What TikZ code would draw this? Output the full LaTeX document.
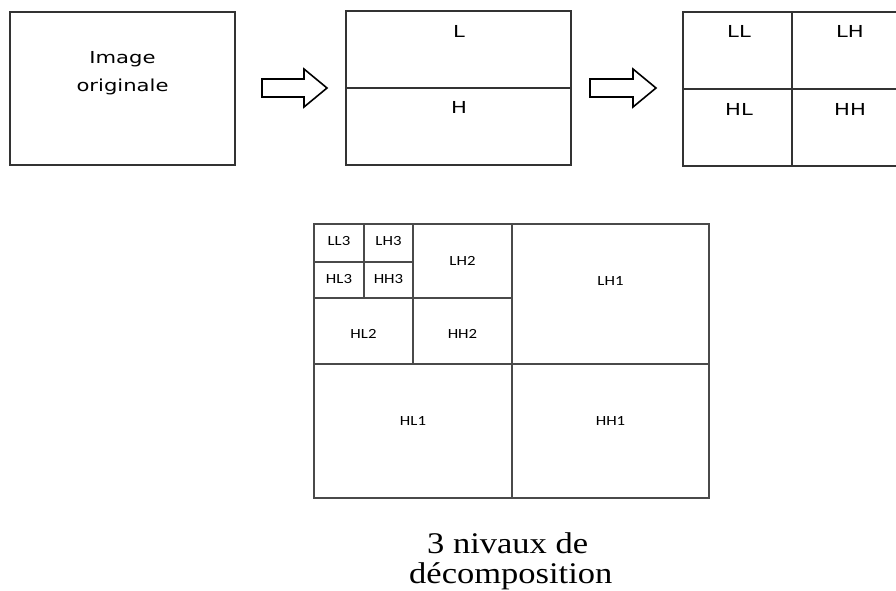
\documentclass[tikz,border=0pt]{standalone}
\usepackage{fontspec}
\usepackage{graphicx}
\setmainfont{Liberation Serif}
\newfontfamily\topfont{DejaVu Sans}
\newfontfamily\gridfont{Carlito}
\definecolor{ink}{HTML}{333333}
\definecolor{gridink}{HTML}{4A4A4A}
\tikzset{
  bigbox/.style={draw=ink, line width=1.8pt, inner sep=0pt},
  cellbox/.style={draw=gridink, line width=1.4pt, inner sep=0pt},
  toplbl/.style={inner sep=0pt, anchor=base, text=black, font=\topfont\fontsize{16.5}{20}\selectfont},
  gridlbl/.style={inner sep=0pt, anchor=base, text=black, font=\gridfont\fontsize{14}{17}\selectfont},
  caplbl/.style={inner sep=0pt, anchor=base west, text=black, font=\fontsize{30}{36}\selectfont},
  blockarrow/.style={draw=black, line width=1.6pt, fill=white, line join=miter},
}
\newcommand{\sx}[2]{\scalebox{#1}[1]{#2}}
\begin{document}
\begin{tikzpicture}[x=1pt, y=-1pt]
\useasboundingbox (0,0) rectangle (896,590);
% ---- top row ----
\node[bigbox, minimum width=225pt, minimum height=153pt] (orig) at (122.5,88.5) {};
\node[toplbl] (origt1) at (122.5,63) {\sx{1.28}{Image}};
\node[toplbl] (origt2) at (122.5,91) {\sx{1.28}{originale}};

\node[bigbox, minimum width=225pt, minimum height=154pt] (lh) at (458.5,88) {};
\draw[ink, line width=1.8pt] (lh.west) -- (lh.east);
\node[toplbl] (lt) at (459,37) {\sx{1.28}{L}};
\node[toplbl] (ht) at (459,113) {\sx{1.28}{H}};

\node[bigbox, minimum width=218pt, minimum height=154pt] (quad) at (792,89) {};
\draw[ink, line width=1.8pt] (quad.north) -- (quad.south);
\draw[ink, line width=1.8pt] (quad.west) -- (quad.east);
\node[toplbl] (llt) at (739,37) {\sx{1.28}{LL}};
\node[toplbl] (lht) at (850,37) {\sx{1.28}{LH}};
\node[toplbl] (hlt) at (739,115) {\sx{1.28}{HL}};
\node[toplbl] (hht) at (850,115) {\sx{1.28}{HH}};

% block arrows
\coordinate (a1) at (262,88);
\draw[blockarrow] (a1) ++(0,-9) -- ++(42,0) -- ++(0,-10) -- (327,88) -- (304,107) -- ++(0,-10) -- ++(-42,0) -- cycle;
\coordinate (a2) at (590,88);
\draw[blockarrow] (a2) ++(0,-9) -- ++(43,0) -- ++(0,-10) -- (656,88) -- (633,107) -- ++(0,-10) -- ++(-43,0) -- cycle;

% ---- decomposition grid ----
\node[cellbox, minimum width=50pt, minimum height=38pt] (ll3) at (339,243) {};
\node[cellbox, minimum width=49pt, minimum height=38pt] (lh3) at (388.5,243) {};
\node[cellbox, minimum width=50pt, minimum height=36pt] (hl3) at (339,280) {};
\node[cellbox, minimum width=49pt, minimum height=36pt] (hh3) at (388.5,280) {};
\node[cellbox, minimum width=99pt, minimum height=74pt] (lh2) at (462.5,261) {};
\node[cellbox, minimum width=99pt, minimum height=66pt] (hl2) at (363.5,331) {};
\node[cellbox, minimum width=99pt, minimum height=66pt] (hh2) at (462.5,331) {};
\node[cellbox, minimum width=197pt, minimum height=140pt] (lh1) at (610.5,294) {};
\node[cellbox, minimum width=198pt, minimum height=134pt] (hl1) at (413,431) {};
\node[cellbox, minimum width=197pt, minimum height=134pt] (hh1) at (610.5,431) {};

\node[gridlbl] (ll3t) at (339,245) {\sx{1.2}{LL3}};
\node[gridlbl] (lh3t) at (388.5,245) {\sx{1.2}{LH3}};
\node[gridlbl] (hl3t) at (339,283) {\sx{1.2}{HL3}};
\node[gridlbl] (hh3t) at (388.5,283) {\sx{1.2}{HH3}};
\node[gridlbl] (lh2t) at (462.5,265) {\sx{1.2}{LH2}};
\node[gridlbl] (hl2t) at (363.5,338) {\sx{1.2}{HL2}};
\node[gridlbl] (hh2t) at (462.5,338) {\sx{1.2}{HH2}};
\node[gridlbl] (lh1t) at (610.5,285) {\sx{1.2}{LH1}};
\node[gridlbl] (hl1t) at (413,425) {\sx{1.2}{HL1}};
\node[gridlbl] (hh1t) at (610.5,425) {\sx{1.2}{HH1}};

% ---- caption ----
\node[caplbl] (cap1) at (427,553) {\sx{1.15}{3 nivaux de}};
\node[caplbl] (cap2) at (409,583) {\sx{1.15}{décomposition}};
\end{tikzpicture}
\end{document}
